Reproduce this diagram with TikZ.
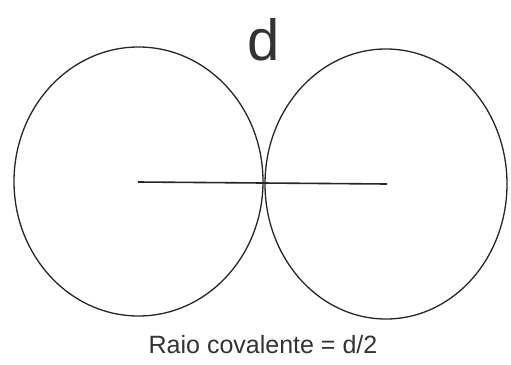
\documentclass[tikz,border=0pt]{standalone}
\usepackage{fontspec}
\setmainfont{Liberation Sans}
\usetikzlibrary{shapes.geometric}
\begin{document}
\begin{tikzpicture}[x=1pt,y=-1pt,
  atom/.style={draw=black!85,line width=1.3pt,ellipse,inner sep=0pt},
  bond/.style={draw=black!85,line width=1.6pt},
  lbl/.style={text=black!80,inner sep=0pt}]
\useasboundingbox (0,0) rectangle (511,364);
\node[atom,minimum width=249pt,minimum height=269pt] (L) at (138.5,181.5) {};
\node[atom,minimum width=242pt,minimum height=270pt] (R) at (386,184) {};
\coordinate (a) at (138,182);
\coordinate (b) at (387,184);
\draw[bond] (a) -- (b);
\node[lbl,font=\fontsize{58}{60}\selectfont] (d) at (263.5,40) {d};
\node[lbl,font=\fontsize{25}{27}\selectfont] (t) at (263,345) {Raio covalente = d/2};
\end{tikzpicture}
\end{document}
